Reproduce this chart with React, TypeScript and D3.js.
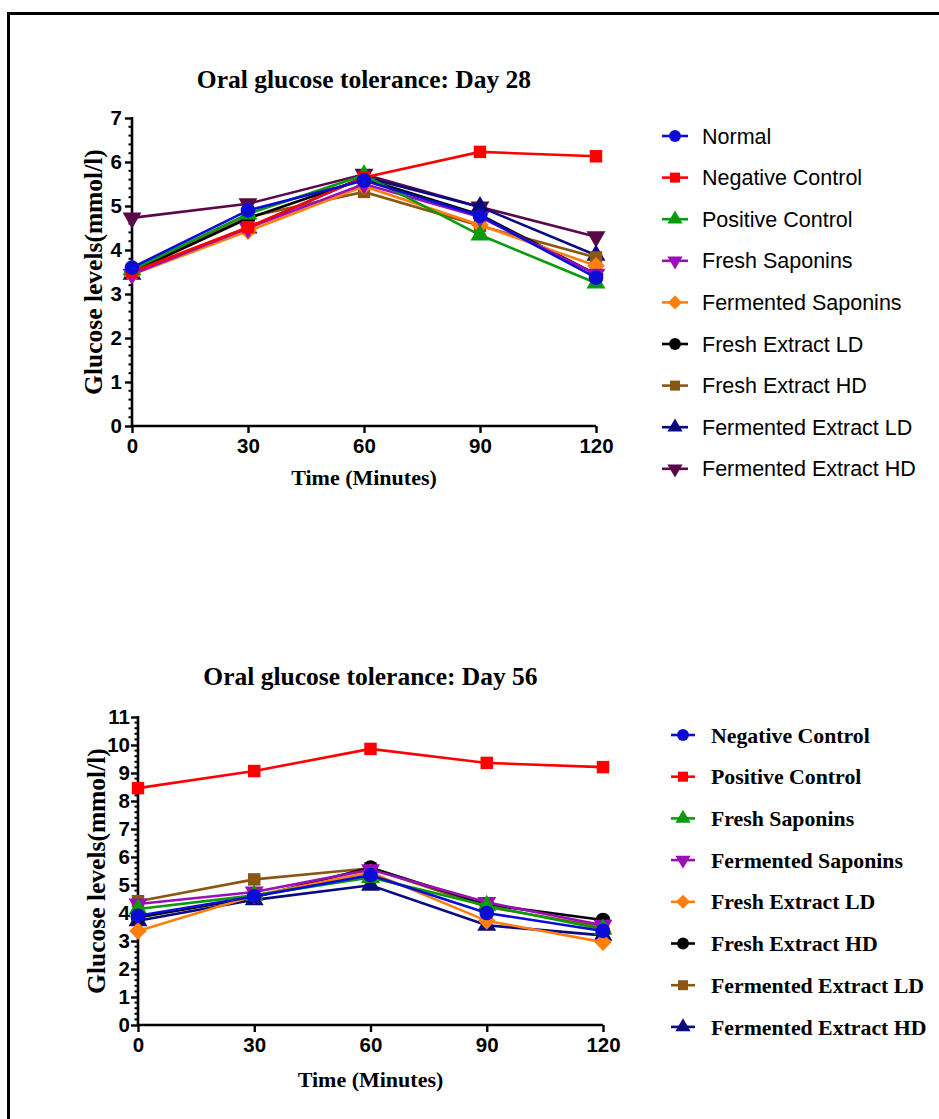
import { useEffect, useRef } from 'react';
import * as d3 from 'd3';

const times = [0, 30, 60, 90, 120];

// Day 28 series
const d28Names = ['Normal', 'Negative Control', 'Positive Control', 'Fresh Saponins', 'Fermented Saponins',
  'Fresh Extract LD', 'Fresh Extract HD', 'Fermented Extract LD', 'Fermented Extract HD'];
const d28Normal = [3.6, 4.9, 5.58, 4.78, 3.37];
const d28Negative = [3.5, 4.52, 5.65, 6.23, 6.13];
const d28Positive = [3.55, 4.82, 5.7, 4.34, 3.25];
const d28FreshSap = [3.45, 4.5, 5.5, 4.75, 3.45];
const d28FermSap = [3.44, 4.43, 5.45, 4.57, 3.64];
const d28FreshLD = [3.5, 4.72, 5.62, 4.8, 3.45];
const d28FreshHD = [3.55, 4.75, 5.32, 4.55, 3.83];
const d28FermLD = [3.45, 4.5, 5.66, 4.98, 3.88];
const d28FermHD = [4.73, 5.05, 5.72, 4.98, 4.3];

// Day 56 series
const d56Names = ['Negative Control', 'Positive Control', 'Fresh Saponins', 'Fermented Saponins',
  'Fresh Extract LD', 'Fresh Extract HD', 'Fermented Extract LD', 'Fermented Extract HD'];
const d56Negative = [3.9, 4.59, 5.35, 4.0, 3.36];
const d56Positive = [8.46, 9.07, 9.86, 9.36, 9.21];
const d56FreshSap = [4.14, 4.63, 5.27, 4.26, 3.42];
const d56FermSap = [4.32, 4.75, 5.55, 4.38, 3.56];
const d56FreshLD = [3.36, 4.62, 5.45, 3.72, 2.96];
const d56FreshHD = [3.84, 4.56, 5.62, 4.3, 3.75];
const d56FermLD = [4.42, 5.2, 5.6, 4.22, 3.5];
const d56FermHD = [3.72, 4.47, 4.99, 3.56, 3.2];

const colors28 = ['#0b0bd6', '#ff0000', '#0a9a0a', '#9a0fb8', '#ff7f0e', '#000000', '#8a5712', '#0a0a80', '#5a0848'];
const shapes28 = ['circle', 'square', 'triangle', 'tridown', 'diamond', 'circle', 'square', 'triangle', 'tridown'];
const colors56 = ['#0b0bd6', '#ff0000', '#0a9a0a', '#9a0fb8', '#ff7f0e', '#000000', '#8a5712', '#0a0a80'];
const shapes56 = ['circle', 'square', 'triangle', 'tridown', 'diamond', 'circle', 'square', 'triangle'];

const symPath = (shape, size) => {
  const t = shape === 'circle' ? d3.symbolCircle
    : shape === 'square' || shape === 'diamond' ? d3.symbolSquare
    : d3.symbolTriangle;
  return d3.symbol().type(t).size(size)();
};
const symRot = shape => shape === 'tridown' ? 180 : shape === 'diamond' ? 45 : 0;

const drawChart = (svg, cfg) => {
  const { x0, x1, yTop, yBottom, yMax, series, title, titleY, yLabelX, xLabelY, tickPad, legend, serifLegend } = cfg;
  const x = d3.scaleLinear().domain([0, 120]).range([x0, x1]);
  const y = d3.scaleLinear().domain([0, yMax]).range([yBottom, yTop]);
  const g = svg.append('g');

  // minor y ticks
  const minor = d3.range(0, yMax * 5 + 1).map(i => i / 5).filter(v => Math.abs(v - Math.round(v)) > 0.01);
  g.selectAll('line.minor').data(minor).enter().append('line')
    .attr('x1', x0 - 3.5).attr('x2', x0).attr('y1', d => y(d)).attr('y2', d => y(d))
    .attr('stroke', '#000').attr('stroke-width', 2);

  const yAxis = d3.axisLeft(y).ticks(yMax).tickSize(7).tickPadding(tickPad).tickFormat(d3.format('d'));
  const xAxis = d3.axisBottom(x).tickValues(times).tickSize(7).tickPadding(5).tickFormat(d3.format('d'));
  const styleAxis = ag => {
    ag.select('.domain').attr('stroke-width', 2.6).attr('stroke', '#000');
    ag.selectAll('.tick line').attr('stroke-width', 2.4).attr('stroke', '#000');
    ag.selectAll('.tick text').attr('font-family', '"Liberation Sans", Arial, sans-serif')
      .attr('font-weight', 'bold').attr('font-size', 20.5).attr('fill', '#000');
  };
  const ya = g.append('g').attr('transform', `translate(${x0},0)`).call(yAxis);
  ya.select('.domain').attr('d', `M0,${yBottom}V${yTop - 1}`);
  styleAxis(ya);
  const xa = g.append('g').attr('transform', `translate(0,${yBottom})`).call(xAxis);
  xa.select('.domain').attr('d', `M${x0},0H${x1}`);
  styleAxis(xa);

  const line = d3.line().x((d, i) => x(times[i])).y(d => y(d));
  const ordered = series.slice().reverse();
  ordered.forEach(s => {
    g.append('path').attr('d', line(s.values)).attr('fill', 'none')
      .attr('stroke', s.color).attr('stroke-width', 2.6);
    g.selectAll(null).data(s.values).enter().append('path')
      .attr('d', symPath(s.shape, s.shape === 'circle' ? 170 : 155))
      .attr('transform', (d, i) => `translate(${x(times[i])},${y(d)}) rotate(${symRot(s.shape)})`)
      .attr('fill', s.color);
  });

  const serif = '"Liberation Serif", "Times New Roman", serif';
  g.append('text').text(title).attr('x', (x0 + x1) / 2).attr('y', titleY).attr('text-anchor', 'middle')
    .attr('font-family', serif).attr('font-weight', 'bold').attr('font-size', 25.5);
  g.append('text').text('Glucose levels(mmol/l)')
    .attr('transform', `translate(${yLabelX},${(yTop + yBottom) / 2}) rotate(-90)`)
    .attr('text-anchor', 'middle').attr('font-family', serif).attr('font-weight', 'bold').attr('font-size', 25.5);
  g.append('text').text('Time (Minutes)').attr('x', (x0 + x1) / 2).attr('y', xLabelY).attr('text-anchor', 'middle')
    .attr('font-family', serif).attr('font-weight', 'bold').attr('font-size', 22);

  // legend
  const lg = g.append('g');
  series.forEach((s, i) => {
    const ly = legend.y0 + i * legend.step;
    lg.append('line').attr('x1', legend.lx1).attr('x2', legend.lx2).attr('y1', ly).attr('y2', ly)
      .attr('stroke', s.color).attr('stroke-width', 2.6);
    lg.append('path').attr('d', symPath(s.shape, s.shape === 'circle' ? 110 : 100))
      .attr('transform', `translate(${(legend.lx1 + legend.lx2) / 2},${ly}) rotate(${symRot(s.shape)})`)
      .attr('fill', s.color);
    lg.append('text').text(s.name).attr('x', legend.tx).attr('y', ly).attr('dy', '0.35em')
      .attr('font-family', serifLegend ? serif : '"Liberation Sans", Arial, sans-serif')
      .attr('font-weight', serifLegend ? 'bold' : 'normal')
      .attr('font-size', serifLegend ? 21.8 : 21.5).attr('fill', '#000');
  });
};

const App = () => {
  const ref = useRef(null);
  useEffect(() => {
    const svg = d3.select(ref.current);
    svg.selectAll('*').remove();

    svg.append('rect').attr('x', 8.5).attr('y', 13.5).attr('width', 960).attr('height', 1130)
      .attr('fill', '#fff').attr('stroke', '#000').attr('stroke-width', 3);

    const vals28 = [d28Normal, d28Negative, d28Positive, d28FreshSap, d28FermSap, d28FreshLD, d28FreshHD, d28FermLD, d28FermHD];
    const vals56 = [d56Negative, d56Positive, d56FreshSap, d56FermSap, d56FreshLD, d56FreshHD, d56FermLD, d56FermHD];

    drawChart(svg, {
      x0: 132, x1: 596, yTop: 118, yBottom: 426, yMax: 7,
      series: d28Names.map((n, i) => ({ name: n, values: vals28[i], color: colors28[i], shape: shapes28[i] })),
      title: 'Oral glucose tolerance: Day 28', titleY: 88, yLabelX: 102, xLabelY: 485, tickPad: 3,
      legend: { lx1: 662, lx2: 688, tx: 702, y0: 136, step: 41.6 }, serifLegend: false
    });
    drawChart(svg, {
      x0: 138, x1: 603, yTop: 717, yBottom: 1025, yMax: 11,
      series: d56Names.map((n, i) => ({ name: n, values: vals56[i], color: colors56[i], shape: shapes56[i] })),
      title: 'Oral glucose tolerance: Day 56', titleY: 685, yLabelX: 105, xLabelY: 1087, tickPad: 1,
      legend: { lx1: 671, lx2: 695, tx: 711, y0: 735, step: 41.7 }, serifLegend: true
    });
  }, []);
  return (
    <div>
      <svg ref={ref} width={939} height={1119}
        style={{ position: 'absolute', left: 0, top: 0, background: '#fff' }} />
    </div>
  );
};

export default App;
